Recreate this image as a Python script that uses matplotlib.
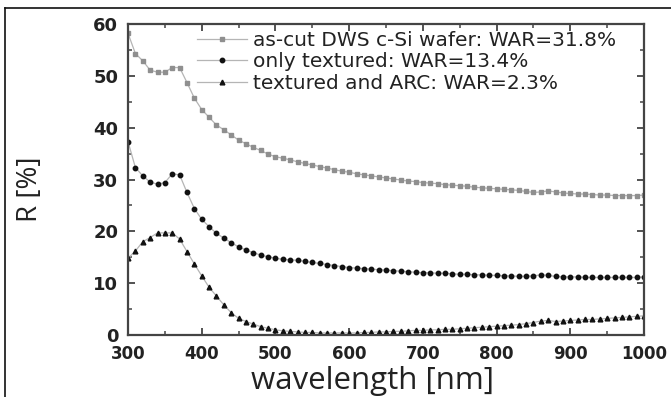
import matplotlib
matplotlib.use("Agg")
import matplotlib.pyplot as plt
from matplotlib.lines import Line2D
from matplotlib.ticker import MultipleLocator
import numpy as np

wavelength = list(range(300, 1001, 10))

as_cut = [58.2, 54.3, 52.9, 51.1, 50.7, 50.7, 51.6, 51.6, 48.7, 45.7,
          43.5, 42.0, 40.5, 39.6, 38.6, 37.6, 36.9, 36.2, 35.6, 34.9,
          34.4, 34.1, 33.8, 33.4, 33.1, 32.8, 32.5, 32.2, 31.9, 31.6,
          31.4, 31.1, 30.9, 30.7, 30.5, 30.3, 30.1, 29.9, 29.7, 29.6,
          29.4, 29.3, 29.2, 29.0, 28.9, 28.8, 28.7, 28.5, 28.4, 28.3,
          28.2, 28.1, 28.0, 27.9, 27.7, 27.5, 27.6, 27.8, 27.6, 27.4,
          27.3, 27.2, 27.2, 27.1, 27.0, 27.0, 26.9, 26.9, 26.9, 26.9,
          27.0]

only_textured = [37.3, 32.3, 30.7, 29.5, 29.1, 29.4, 31.1, 30.9, 27.5, 24.4,
                 22.3, 20.9, 19.6, 18.7, 17.8, 17.0, 16.4, 15.9, 15.4, 15.1,
                 14.8, 14.6, 14.5, 14.4, 14.2, 14.0, 13.8, 13.6, 13.4, 13.2,
                 13.0, 12.9, 12.8, 12.7, 12.6, 12.5, 12.4, 12.3, 12.2, 12.1,
                 12.0, 12.0, 11.9, 11.9, 11.8, 11.7, 11.7, 11.6, 11.6, 11.5,
                 11.5, 11.4, 11.4, 11.3, 11.3, 11.4, 11.6, 11.5, 11.3, 11.2,
                 11.2, 11.2, 11.1, 11.1, 11.1, 11.1, 11.1, 11.1, 11.1, 11.1,
                 11.2]

textured_arc = [14.8, 16.2, 18.0, 18.8, 19.7, 19.7, 19.7, 18.5, 16.1, 13.7,
                11.4, 9.2, 7.5, 5.8, 4.3, 3.2, 2.6, 2.1, 1.6, 1.3,
                1.0, 0.8, 0.7, 0.6, 0.5, 0.5, 0.4, 0.4, 0.4, 0.4,
                0.4, 0.4, 0.5, 0.5, 0.6, 0.6, 0.7, 0.7, 0.8, 0.9,
                0.9, 1.0, 1.0, 1.1, 1.1, 1.2, 1.3, 1.4, 1.5, 1.6,
                1.7, 1.8, 1.9, 2.0, 2.2, 2.4, 2.7, 2.8, 2.6, 2.7,
                2.8, 2.9, 3.0, 3.0, 3.1, 3.2, 3.3, 3.4, 3.5, 3.6,
                3.7]

labels = ["as-cut DWS c-Si wafer: WAR=31.8%",
          "only textured: WAR=13.4%",
          "textured and ARC: WAR=2.3%"]

fig = plt.figure(figsize=(6.71, 3.97), dpi=100)
ax = fig.add_axes([0.1908, 0.1562, 0.7690, 0.7833])

line_col = "#b5b5b5"
ax.plot(wavelength, as_cut, color=line_col, lw=0.9, marker="s", markersize=2.8,
        markerfacecolor="#8f8f8f", markeredgecolor="#8f8f8f", label=labels[0])
ax.plot(wavelength, only_textured, color=line_col, lw=0.9, marker="o", markersize=3.2,
        markerfacecolor="#111111", markeredgecolor="#111111", label=labels[1])
ax.plot(wavelength, textured_arc, color=line_col, lw=0.9, marker="^", markersize=3.4,
        markerfacecolor="#111111", markeredgecolor="#111111", label=labels[2])

ax.set_xlim(300, 1000)
ax.set_ylim(0, 60)
ax.xaxis.set_major_locator(MultipleLocator(100))
ax.xaxis.set_minor_locator(MultipleLocator(50))
ax.yaxis.set_major_locator(MultipleLocator(10))
ax.yaxis.set_minor_locator(MultipleLocator(5))

spine_col = "#444444"
for s in ax.spines.values():
    s.set_linewidth(1.6)
    s.set_color(spine_col)
ax.tick_params(which="both", direction="in", top=True, right=True, color=spine_col)
ax.tick_params(which="major", length=5, width=1.3, pad=7)
ax.tick_params(which="minor", length=3, width=1.1)
for lab in ax.get_xticklabels() + ax.get_yticklabels():
    lab.set_fontweight("bold")
    lab.set_family("DejaVu Sans")
    lab.set_color("#222222")
for lab in ax.get_xticklabels():
    lab.set_fontsize(12)
for lab in ax.get_yticklabels():
    lab.set_fontsize(13)

ax.set_xlabel("wavelength [nm]", family="Open Sans", fontsize=22.5, color="#222222")
ax.xaxis.set_label_coords((372 - 128) / 516, -(396 - 335) / 311)
ax.xaxis.label.set_va("bottom")
ax.set_ylabel("R [%]", family="Open Sans", fontsize=20, color="#222222")
ax.yaxis.set_label_coords((44 - 128) / 516, (335 - 189) / 311)

leg = ax.legend(loc="upper left", bbox_to_anchor=(0.1337, 0.978), frameon=False,
                handlelength=2.5, handletextpad=0.3, labelspacing=0.13,
                borderaxespad=0.0, borderpad=0.0,
                prop={"family": "DejaVu Sans", "size": 14.5})
for t in leg.get_texts():
    t.set_color("#222222")

# outer frame lines (top and left)
fig.add_artist(Line2D([5/671, 1.0], [1 - 8/397, 1 - 8/397], transform=fig.transFigure,
                      color="#111111", lw=1.2))
fig.add_artist(Line2D([5/671, 5/671], [0.0, 1 - 8/397], transform=fig.transFigure,
                      color="#111111", lw=1.2))

fig.savefig("out.png", dpi=100)
